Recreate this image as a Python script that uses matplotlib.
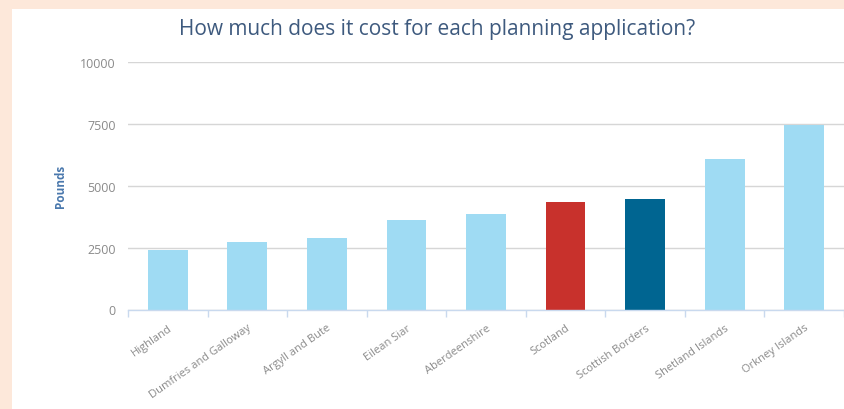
import matplotlib
matplotlib.use("Agg")
import matplotlib.pyplot as plt
from matplotlib.patches import Rectangle

# planning application cost by council area
areas = [
    "Highland",
    "Dumfries and Galloway",
    "Argyll and Bute",
    "Eilean Siar",
    "Aberdeenshire",
    "Scotland",
    "Scottish Borders",
    "Shetland Islands",
    "Orkney Islands",
]
cost = [2390, 2730, 2890, 3610, 3840, 4330, 4460, 6100, 7460]
y_ticks = [0, 2500, 5000, 7500, 10000]

LIGHT = "#9fdbf3"
bar_colors = [LIGHT] * len(areas)
bar_colors[areas.index("Scotland")] = "#c8312c"
bar_colors[areas.index("Scottish Borders")] = "#006591"

plt.rcParams["font.family"] = ["Open Sans", "DejaVu Sans"]

fig = plt.figure(figsize=(8.45, 4.1), dpi=100)
fig.patch.set_facecolor("#fde8da")
# white card behind the chart
fig.patches.append(Rectangle((12 / 845, 0), 1, 400 / 410, transform=fig.transFigure,
                             facecolor="white", edgecolor="none", zorder=-1))

ax = fig.add_axes([128 / 845, 99.5 / 410, 716 / 845, 247.5 / 410])
ax.set_zorder(1)
ax.set_facecolor("white")

x = range(len(areas))
ax.bar(x, cost, width=0.5, color=bar_colors, edgecolor="none", zorder=3)

ax.set_xlim(-0.5, len(areas) - 0.5)
ax.set_ylim(0, 10000)
ax.set_yticks(y_ticks)
ax.set_yticklabels([str(v) for v in y_ticks])
ax.yaxis.grid(True, color="#d6d6d6", linewidth=1.0)
ax.set_axisbelow(True)

for side in ["top", "right", "left"]:
    ax.spines[side].set_visible(False)
ax.spines["bottom"].set_color("#c9d9ee")
ax.spines["bottom"].set_linewidth(1.0)
ax.spines["bottom"].set_zorder(4)

# ticks sit on category boundaries, labels on category centres
ax.set_xticks([i - 0.5 for i in range(len(areas) + 1)])
ax.set_xticklabels([])
ax.set_xticks(list(x), minor=True)
ax.set_xticklabels(areas, minor=True, rotation=35, ha="right",
                   rotation_mode="anchor", fontsize=8, color="#8a8a8a")
ax.tick_params(axis="x", which="major", length=5, color="#c9d9ee", width=1)
ax.tick_params(axis="x", which="minor", length=0, pad=9)
ax.tick_params(axis="y", length=0, pad=9, labelsize=9, labelcolor="#8a8a8a")

ax.set_ylabel("Pounds", fontsize=8.5, fontweight="bold", color="#4a78ad", labelpad=9)

fig.text(437 / 845, 1 - 30 / 410, "How much does it cost for each planning application?",
         ha="center", va="center", fontsize=15, color="#3e5a7e")

fig.savefig("out.png", dpi=100, facecolor=fig.get_facecolor())
